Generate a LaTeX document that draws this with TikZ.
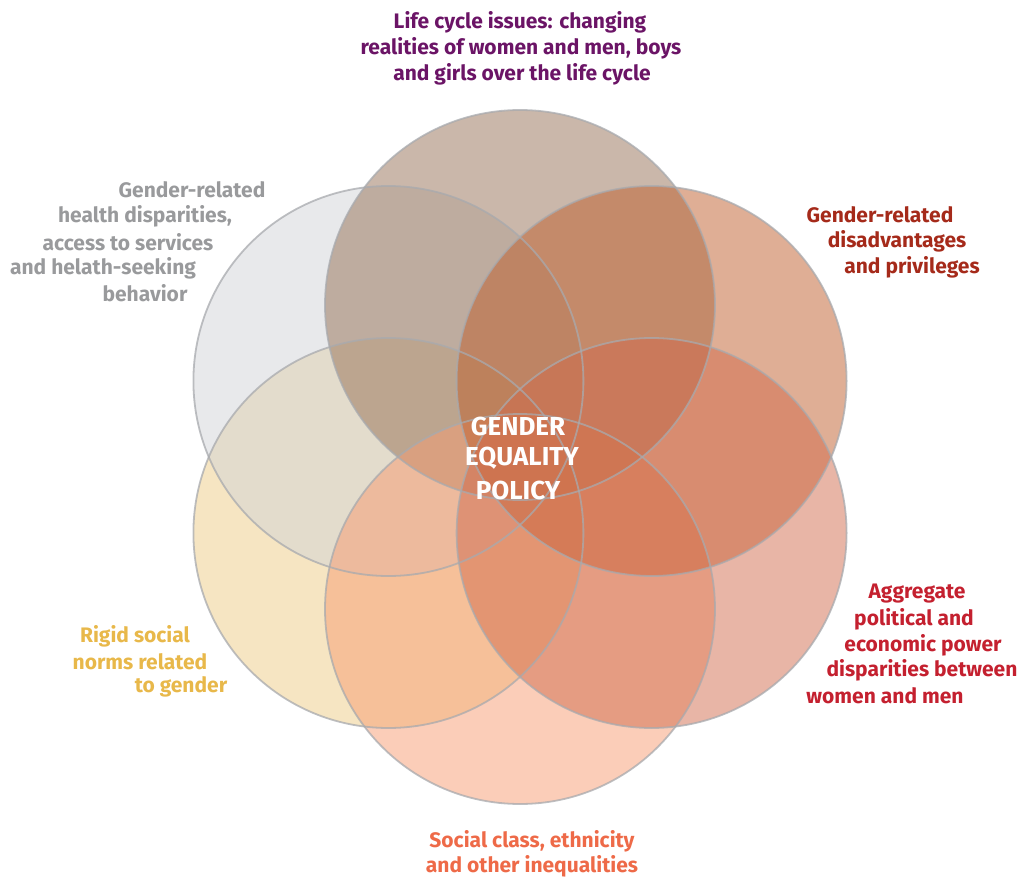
\documentclass[tikz,border=0pt]{standalone}
\usepackage{fontspec}
\setmainfont{Fira Sans}
\definecolor{cgray}{RGB}{209,211,215}
\definecolor{ctop}{RGB}{150,112,85}
\definecolor{cur}{RGB}{191,93,43}
\definecolor{clr}{RGB}{209,107,77}
\definecolor{cbot}{RGB}{247,155,113}
\definecolor{cll}{RGB}{237,203,133}
\definecolor{edge}{RGB}{168,170,174}
\definecolor{tpurple}{RGB}{107,20,102}
\definecolor{tgray}{RGB}{153,154,156}
\definecolor{tbrown}{RGB}{165,42,26}
\definecolor{tred}{RGB}{196,32,47}
\definecolor{tyellow}{RGB}{232,184,74}
\definecolor{torange}{RGB}{238,106,72}
\tikzset{
  disc/.style={fill=#1, fill opacity=0.5, draw=none},
  ring/.style={draw=edge, line width=1.8pt, draw opacity=0.75},
  lbl/.style={font=\fontsize{21}{24}\selectfont\bfseries, text=#1, inner sep=0pt, anchor=center},
  core/.style={font=\fontsize{26}{30}\selectfont\bfseries, text=white, inner sep=0pt, anchor=center}
}
\begin{document}
\begin{tikzpicture}[x=1pt,y=-1pt]
\useasboundingbox (0,0) rectangle (1021,878);
\coordinate (O) at (520,457);
\coordinate (cT) at (520,305);
\coordinate (cUL) at (388.4,381);
\coordinate (cUR) at (651.6,381);
\coordinate (cLL) at (388.4,533);
\coordinate (cLR) at (651.6,533);
\coordinate (cB) at (520,609);
\def\R{195}
\fill[disc=cll] (cLL) circle (\R);
\fill[disc=cgray] (cUL) circle (\R);
\fill[disc=ctop] (cT) circle (\R);
\fill[disc=cbot] (cB) circle (\R);
\fill[disc=cur] (cUR) circle (\R);
\fill[disc=clr] (cLR) circle (\R);
\foreach \c in {cLL,cUL,cT,cB,cUR,cLR} \draw[ring] (\c) circle (\R);

\node[core] (g1) at (518,426) {GENDER};
\node[core] (g2) at (522,458) {EQUALITY};
\node[core] (g3) at (518,490) {POLICY};

\node[lbl=tpurple] (t1) at (520,22) {Life cycle issues: changing};
\node[lbl=tpurple] (t2) at (521,48) {realities of women and men, boys};
\node[lbl=tpurple] (t3) at (522,74) {and girls over the life cycle};

\node[lbl=tgray] (h1) at (192,190) {Gender-related};
\node[lbl=tgray] (h2) at (145,216) {health disparities,};
\node[lbl=tgray] (h3) at (128,242) {access to services};
\node[lbl=tgray] (h4) at (103,268) {and helath-seeking};
\node[lbl=tgray] (h5) at (145,293) {behavior};

\node[lbl=tbrown] (d1) at (880,215) {Gender-related};
\node[lbl=tbrown] (d2) at (897,241) {disadvantages};
\node[lbl=tbrown] (d3) at (912,267) {and privileges};

\node[lbl=tred] (a1) at (917,594) {Aggregate};
\node[lbl=tred] (a2) at (914,619) {political and};
\node[lbl=tred] (a3) at (923,645) {economic power};
\node[lbl=tred] (a4) at (922,670) {disparities between};
\node[lbl=tred] (a5) at (885,696) {women and men};

\node[lbl=tyellow] (r1) at (135,636) {Rigid social};
\node[lbl=tyellow] (r2) at (140,662) {norms related};
\node[lbl=tyellow] (r3) at (181,687) {to gender};

\node[lbl=torange] (s1) at (532,841) {Social class, ethnicity};
\node[lbl=torange] (s2) at (532,866) {and other inequalities};
\end{tikzpicture}
\end{document}
